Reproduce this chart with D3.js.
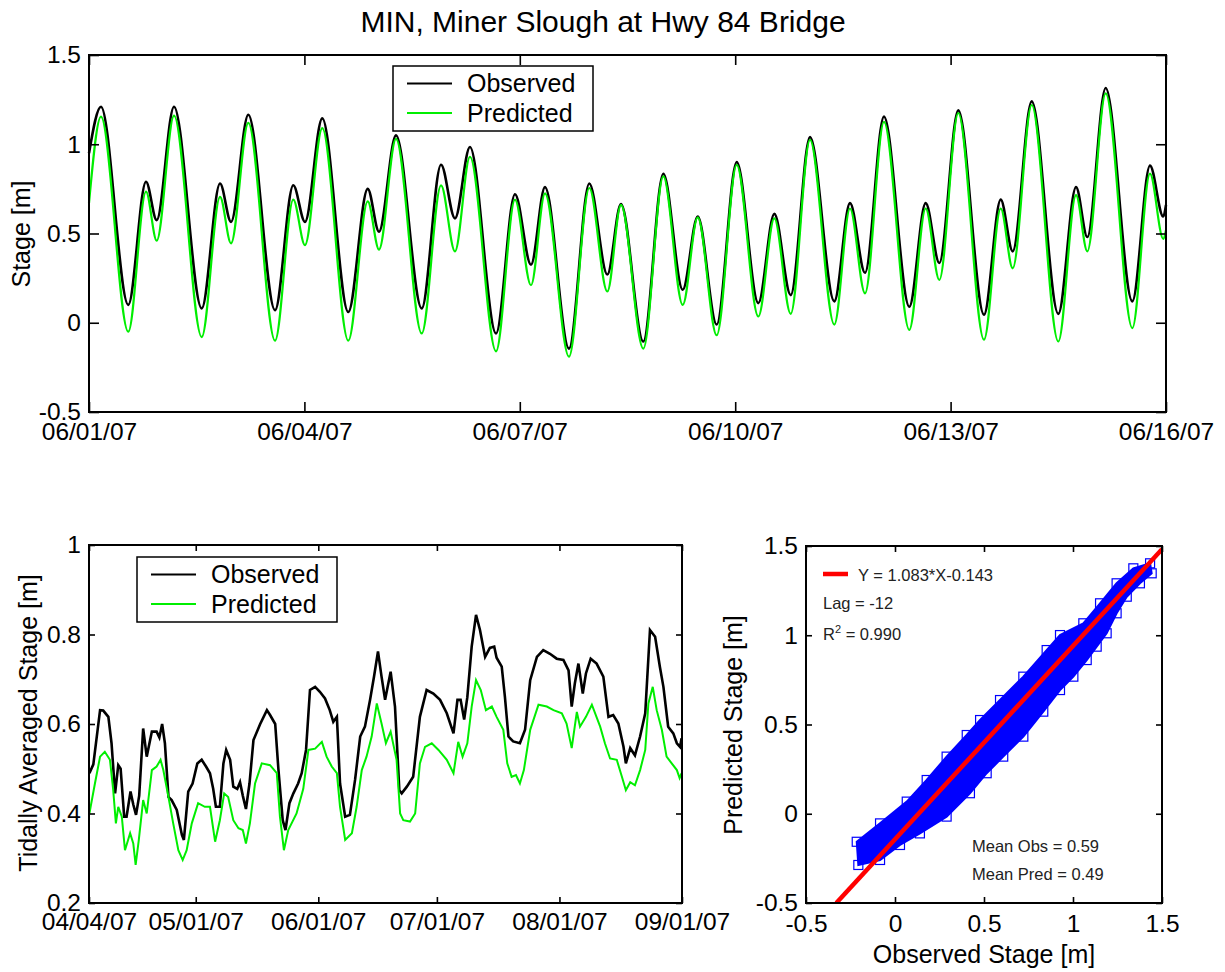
<!DOCTYPE html>
<html>
<head>
<meta charset="utf-8">
<script src="https://cdn.jsdelivr.net/npm/d3@7"></script>
<style>
  body { margin: 0; background: #fff; }
  svg text { font-family: Arial, "Liberation Sans", sans-serif; fill: #000; }
</style>
</head>
<body>
<div id="chart"></div>
<script>
// ---- data ----
// top panel: days after 06/01/07 00:00, stage in m
const tideDays = [0,0.167,0.547,0.794,0.943,1.184,1.570,1.825,1.978,2.219,2.591,2.845,3.008,3.249,3.611,3.882,4.039,4.276,4.634,4.903,5.097,5.306,5.669,5.933,6.156,6.351,6.685,6.968,7.219,7.409,7.720,7.999,8.269,8.478,8.742,9.021,9.322,9.545,9.773,10.042,10.380,10.599,10.808,11.072,11.425,11.653,11.843,12.107,12.465,12.698,12.865,13.130,13.500,13.747,13.904,14.160,14.531,14.777,14.962,15];
const tideObs = [0.95,1.21,0.10,0.79,0.575,1.21,0.08,0.78,0.565,1.165,0.07,0.77,0.565,1.145,0.06,0.75,0.51,1.05,0.08,0.885,0.585,0.985,-0.06,0.72,0.325,0.76,-0.145,0.78,0.27,0.665,-0.105,0.835,0.185,0.595,-0.01,0.90,0.11,0.61,0.155,1.04,0.12,0.67,0.28,1.155,0.09,0.67,0.335,1.19,0.045,0.69,0.40,1.24,0.05,0.76,0.48,1.315,0.12,0.88,0.595,0.66];
const tidePred = [0.67,1.155,-0.05,0.735,0.46,1.16,-0.08,0.705,0.445,1.12,-0.10,0.69,0.435,1.09,-0.10,0.68,0.41,1.03,-0.06,0.77,0.40,0.93,-0.16,0.69,0.21,0.725,-0.19,0.755,0.175,0.66,-0.145,0.82,0.10,0.59,-0.07,0.885,0.035,0.585,0.05,1.025,-0.01,0.64,0.165,1.125,-0.04,0.64,0.24,1.175,-0.095,0.64,0.305,1.22,-0.105,0.715,0.40,1.285,-0.03,0.835,0.47,0.52];
const tideTicks = ["06/01/07","06/04/07","06/07/07","06/10/07","06/13/07","06/16/07"];
const stageTicks = [-0.5,0,0.5,1,1.5];

// bottom left: [days after 04/04/07, tidally averaged stage m]
const avgObs = [[0.1,0.49],[1.1,0.51],[2.8,0.631],[3.6,0.63],[4.9,0.616],[5.7,0.557],[6.6,0.445],[7.4,0.508],[8.0,0.50],[8.9,0.393],[9.5,0.393],[10.5,0.449],[11.2,0.42],[11.9,0.397],[12.7,0.44],[13.7,0.59],[14.6,0.527],[15.9,0.583],[17.1,0.583],[17.8,0.57],[18.5,0.60],[19.2,0.557],[20.1,0.437],[20.9,0.43],[22.2,0.408],[23.5,0.352],[24.0,0.341],[25.1,0.449],[26.2,0.467],[27.4,0.512],[28.5,0.520],[29.6,0.505],[30.6,0.49],[31.4,0.456],[32.1,0.415],[33.1,0.415],[34.0,0.512],[34.7,0.542],[35.7,0.52],[36.5,0.46],[37.5,0.455],[38.2,0.47],[38.9,0.44],[39.7,0.41],[40.6,0.467],[41.6,0.564],[43.3,0.60],[45.0,0.631],[45.8,0.62],[47.1,0.60],[47.9,0.50],[49.0,0.385],[49.7,0.363],[50.7,0.423],[51.7,0.445],[52.9,0.467],[53.8,0.49],[54.9,0.542],[55.9,0.676],[57.2,0.683],[58.4,0.672],[59.7,0.657],[60.9,0.631],[61.8,0.605],[62.7,0.616],[63.5,0.467],[64.8,0.393],[66.0,0.397],[67.3,0.475],[68.6,0.572],[69.8,0.594],[71.1,0.654],[72.1,0.706],[73.1,0.762],[74.0,0.706],[74.9,0.654],[76.3,0.717],[77.4,0.639],[78.5,0.452],[79.1,0.445],[80.4,0.46],[82.0,0.482],[83.7,0.616],[85.4,0.676],[87.1,0.668],[88.8,0.654],[90.5,0.624],[92.2,0.579],[93.2,0.654],[94.0,0.654],[94.9,0.61],[95.7,0.66],[96.8,0.773],[97.9,0.844],[98.9,0.81],[100.2,0.75],[101.4,0.77],[102.5,0.773],[103.1,0.748],[104.4,0.728],[105.2,0.661],[106.1,0.572],[107.3,0.561],[109.0,0.557],[110.3,0.587],[111.6,0.698],[113.3,0.75],[114.9,0.765],[116.6,0.757],[118.3,0.746],[120.0,0.743],[121.3,0.72],[122.1,0.639],[122.9,0.691],[123.8,0.735],[124.9,0.668],[125.7,0.713],[126.9,0.746],[128.4,0.735],[130.1,0.706],[131.4,0.616],[132.6,0.62],[133.9,0.601],[135.2,0.549],[135.8,0.512],[136.9,0.546],[138.1,0.53],[139.4,0.572],[140.7,0.624],[141.9,0.81],[143.2,0.795],[144.4,0.728],[145.3,0.683],[146.5,0.594],[147.8,0.579],[148.7,0.557],[149.5,0.549],[149.9,0.568]];
const avgPred = [[0.1,0.40],[1.5,0.467],[2.8,0.527],[4.0,0.538],[5.3,0.52],[6.1,0.455],[6.8,0.378],[7.4,0.415],[8.3,0.393],[9.1,0.318],[10.4,0.356],[11.2,0.333],[11.8,0.285],[12.6,0.341],[13.7,0.43],[14.6,0.40],[15.9,0.497],[17.1,0.505],[18.1,0.52],[18.8,0.497],[20.1,0.437],[21.3,0.378],[22.6,0.318],[23.7,0.296],[24.7,0.318],[26.0,0.378],[27.6,0.423],[29.3,0.415],[30.6,0.415],[31.9,0.337],[33.1,0.385],[34.2,0.445],[35.2,0.437],[36.5,0.385],[37.8,0.367],[38.9,0.363],[39.7,0.333],[40.7,0.378],[42.0,0.467],[43.7,0.512],[45.8,0.508],[47.5,0.49],[48.3,0.393],[49.3,0.318],[50.4,0.363],[52.5,0.40],[54.2,0.455],[55.5,0.542],[57.2,0.545],[58.9,0.56],[60.1,0.527],[61.4,0.505],[62.7,0.49],[63.5,0.415],[64.8,0.341],[66.5,0.356],[67.7,0.415],[69.0,0.497],[70.2,0.527],[71.5,0.572],[72.8,0.646],[74.0,0.601],[75.1,0.557],[76.3,0.583],[77.8,0.52],[78.7,0.40],[79.5,0.385],[81.2,0.382],[82.5,0.40],[83.7,0.512],[85.0,0.549],[86.7,0.557],[88.4,0.542],[90.5,0.52],[92.2,0.49],[93.4,0.56],[94.5,0.527],[95.7,0.557],[96.8,0.639],[97.9,0.698],[99.1,0.676],[100.4,0.631],[101.9,0.639],[103.1,0.616],[104.8,0.587],[105.8,0.512],[106.9,0.482],[108.0,0.486],[109.0,0.467],[110.0,0.497],[111.6,0.587],[113.7,0.643],[115.8,0.639],[117.5,0.631],[119.6,0.624],[120.8,0.601],[122.1,0.546],[123.4,0.627],[124.2,0.594],[125.7,0.616],[127.2,0.643],[129.3,0.594],[130.5,0.557],[131.8,0.523],[133.5,0.52],[134.8,0.482],[135.8,0.452],[136.9,0.47],[138.1,0.463],[139.4,0.497],[140.7,0.542],[141.5,0.646],[142.6,0.683],[143.6,0.631],[144.9,0.587],[146.1,0.527],[147.4,0.512],[148.7,0.497],[149.4,0.479],[149.9,0.49]];
const avgTicks = ["04/04/07","05/01/07","06/01/07","07/01/07","08/01/07","09/01/07"];
const avgStageTicks = [0.2,0.4,0.6,0.8,1];

// bottom right: outline of the observed/predicted point cloud
const cloudUpper = [[-0.215,-0.157],[-0.084,-0.054],[0.066,0.068],[0.178,0.189],[0.290,0.320],[0.403,0.441],[0.478,0.525],[0.590,0.637],[0.721,0.768],[0.852,0.917],[0.927,1.001],[1.058,1.067],[1.152,1.179],[1.245,1.291],[1.339,1.375],[1.433,1.403]];
const cloudLower = [[-0.206,-0.287],[-0.084,-0.259],[0.028,-0.175],[0.140,-0.110],[0.290,-0.016],[0.421,0.115],[0.515,0.227],[0.608,0.320],[0.721,0.432],[0.833,0.572],[0.927,0.693],[1.002,0.768],[1.077,0.861],[1.133,0.936],[1.189,1.011],[1.245,1.123],[1.302,1.216],[1.376,1.291],[1.442,1.347]];
const fit = { slope: 1.083, intercept: -0.143 };
const scatterTicks = [-0.5,0,0.5,1,1.5];

// ---- layout ----
const W = 1225, H = 972;
const topBox = { x0: 89, x1: 1166, y0: 55, y1: 412 };
const blBox = { x0: 89, x1: 682, y0: 545, y1: 903 };
const scBox = { x0: 806, x1: 1162, y0: 546, y1: 903 };
const FONT = 24.5;

const parse = d3.utcParse("%m/%d/%y");
const fmt = d3.utcFormat("%m/%d/%y");
const dayMs = 864e5;

const svg = d3.select("#chart").append("svg")
  .attr("width", W).attr("height", H);

svg.append("text")
  .attr("x", 603).attr("y", 32)
  .attr("text-anchor", "middle")
  .style("font-size", "30px")
  .text("MIN, Miner Slough at Hwy 84 Bridge");

// box with inward ticks on all four sides
function frame(b, x, y, o) {
  const g = svg.append("g");
  g.append("g").attr("transform", `translate(0,${b.y1})`)
    .call(d3.axisBottom(x).tickValues(o.xt).tickFormat(o.xf).tickSize(-o.tl).tickPadding(o.xp));
  g.append("g").attr("transform", `translate(0,${b.y0})`)
    .call(d3.axisTop(x).tickValues(o.xt).tickFormat("").tickSize(-o.tl));
  g.append("g").attr("transform", `translate(${b.x0},0)`)
    .call(d3.axisLeft(y).tickValues(o.yt).tickFormat(o.yf).tickSize(-o.tl).tickPadding(8));
  g.append("g").attr("transform", `translate(${b.x1},0)`)
    .call(d3.axisRight(y).tickValues(o.yt).tickFormat("").tickSize(-o.tl));
  g.selectAll(".domain").remove();
  g.selectAll(".tick line").attr("stroke", "#000").attr("stroke-width", 1.6);
  g.selectAll("text").style("font-size", FONT + "px")
    .style("font-family", "Arial, 'Liberation Sans', sans-serif");
  svg.append("rect")
    .attr("x", b.x0).attr("y", b.y0)
    .attr("width", b.x1 - b.x0).attr("height", b.y1 - b.y0)
    .attr("fill", "none").attr("stroke", "#000").attr("stroke-width", 2);
}

function yLabel(text, x, cy) {
  svg.append("text")
    .attr("transform", `translate(${x},${cy}) rotate(-90)`)
    .attr("text-anchor", "middle")
    .style("font-size", "25px")
    .text(text);
}

function legend(x, y) {
  svg.append("rect")
    .attr("x", x).attr("y", y).attr("width", 200).attr("height", 65)
    .attr("fill", "#fff").attr("stroke", "#000").attr("stroke-width", 1.5);
  [["Observed", "#000"], ["Predicted", "#00ee00"]].forEach(([t, c], i) => {
    const ly = y + 17.5 + i * 29.5;
    svg.append("line")
      .attr("x1", x + 14).attr("x2", x + 59).attr("y1", ly).attr("y2", ly)
      .attr("stroke", c).attr("stroke-width", 2);
    svg.append("text")
      .attr("x", x + 74).attr("y", ly + 8.5)
      .style("font-size", "25px").text(t);
  });
}

// ---- top panel ----
const t0 = parse(tideTicks[0]);
const xTop = d3.scaleUtc()
  .domain([t0, parse(tideTicks[tideTicks.length - 1])])
  .range([topBox.x0, topBox.x1]);
const yTop = d3.scaleLinear().domain([-0.5, 1.5]).range([topBox.y1, topBox.y0]);

const tideLine = vals => d3.line()
  .x((d, i) => xTop(new Date(+t0 + tideDays[i] * dayMs)))
  .y(d => yTop(d))
  .curve(d3.curveMonotoneX)(vals);

svg.append("path").attr("d", tideLine(tideObs))
  .attr("fill", "none").attr("stroke", "#000").attr("stroke-width", 2.6);
svg.append("path").attr("d", tideLine(tidePred))
  .attr("fill", "none").attr("stroke", "#00ee00").attr("stroke-width", 2.2);

frame(topBox, xTop, yTop, {
  xt: tideTicks.map(parse), xf: fmt, xp: 11,
  yt: stageTicks, yf: d => String(d), tl: 10
});
yLabel("Stage [m]", 30, 234);
legend(393, 66);

// ---- bottom left panel ----
const a0 = parse(avgTicks[0]);
const xBl = d3.scaleUtc()
  .domain([a0, parse(avgTicks[avgTicks.length - 1])])
  .range([blBox.x0, blBox.x1]);
const yBl = d3.scaleLinear().domain([0.2, 1]).range([blBox.y1, blBox.y0]);
const avgLine = d3.line()
  .x(d => xBl(new Date(+a0 + d[0] * dayMs)))
  .y(d => yBl(d[1]));

svg.append("path").attr("d", avgLine(avgObs))
  .attr("fill", "none").attr("stroke", "#000").attr("stroke-width", 2.6);
svg.append("path").attr("d", avgLine(avgPred))
  .attr("fill", "none").attr("stroke", "#00ee00").attr("stroke-width", 2);

frame(blBox, xBl, yBl, {
  xt: avgTicks.map(parse), xf: fmt, xp: 10,
  yt: avgStageTicks, yf: d => String(d), tl: 6
});
yLabel("Tidally Averaged Stage [m]", 37, 723);
legend(137, 557);

// ---- bottom right scatter ----
const xSc = d3.scaleLinear().domain([-0.5, 1.5]).range([scBox.x0, scBox.x1]);
const ySc = d3.scaleLinear().domain([-0.5, 1.5]).range([scBox.y1, scBox.y0]);
svg.append("clipPath").attr("id", "scclip").append("rect")
  .attr("x", scBox.x0).attr("y", scBox.y0)
  .attr("width", scBox.x1 - scBox.x0).attr("height", scBox.y1 - scBox.y0);

const cloud = cloudUpper.concat(cloudLower.slice().reverse());
const sg = svg.append("g").attr("clip-path", "url(#scclip)");
sg.append("path")
  .attr("d", d3.line().x(d => xSc(d[0])).y(d => ySc(d[1]))(cloud) + "Z")
  .attr("fill", "#0000ff").attr("stroke", "#0000ff").attr("stroke-width", 2);
sg.selectAll("rect.pt")
  .data(cloud)
  .join("rect")
  .attr("class", "pt")
  .attr("x", d => xSc(d[0]) - 4.5).attr("y", d => ySc(d[1]) - 4.5)
  .attr("width", 9).attr("height", 9)
  .attr("fill", "none").attr("stroke", "#0000ff").attr("stroke-width", 1.2);

const xStart = (-0.5 - fit.intercept) / fit.slope;
sg.append("line")
  .attr("x1", xSc(xStart)).attr("y1", ySc(-0.5))
  .attr("x2", xSc(1.5)).attr("y2", ySc(fit.slope * 1.5 + fit.intercept))
  .attr("stroke", "#ff0000").attr("stroke-width", 4.5);

frame(scBox, xSc, ySc, {
  xt: scatterTicks, xf: d => String(d), xp: 12,
  yt: scatterTicks, yf: d => String(d), tl: 6
});
yLabel("Predicted Stage [m]", 742, 725);
svg.append("text")
  .attr("x", (scBox.x0 + scBox.x1) / 2).attr("y", 963)
  .attr("text-anchor", "middle").style("font-size", "25px")
  .text("Observed Stage [m]");

// annotations
svg.append("line")
  .attr("x1", 823).attr("x2", 848).attr("y1", 574).attr("y2", 574)
  .attr("stroke", "#ff0000").attr("stroke-width", 4.5);
const note = (x, y, t) => svg.append("text")
  .attr("x", x).attr("y", y).style("font-size", "16.5px").style("fill", "#222").text(t);
note(858, 581, `Y = ${fit.slope}*X${fit.intercept}`);
note(823, 609, "Lag = -12");
const r2 = note(823, 640, "R");
r2.append("tspan").attr("dy", -7).style("font-size", "11px").text("2");
r2.append("tspan").attr("dy", 7).text(" = 0.990");
note(972, 852, "Mean Obs = 0.59");
note(972, 880, "Mean Pred = 0.49");
</script>
</body>
</html>
